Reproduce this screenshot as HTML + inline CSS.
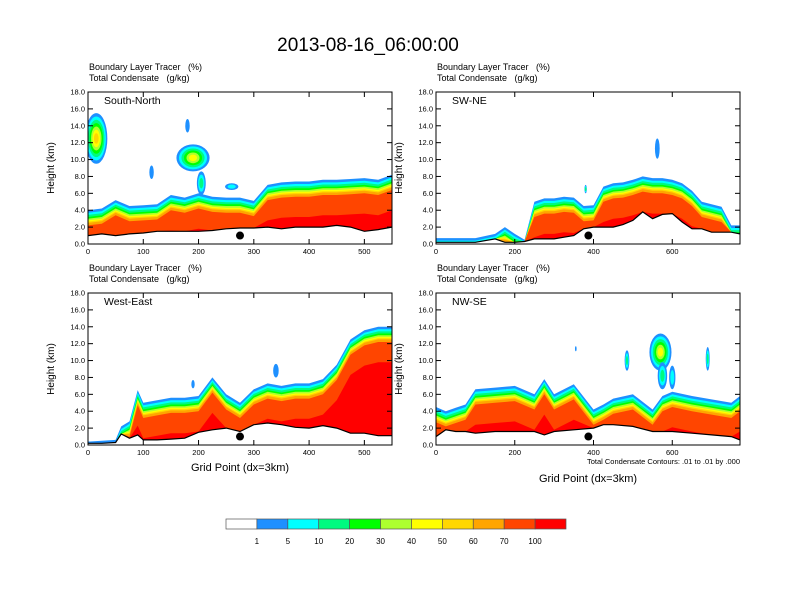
<!DOCTYPE html>
<html><head><meta charset="utf-8">
<style>
body{margin:0;background:#fff;}
svg{display:block;font-family:"Liberation Sans",Arial,sans-serif;}
text{white-space:pre;}
</style></head>
<body>
<svg id="fig" width="792" height="612" viewBox="0 0 792 612" xmlns="http://www.w3.org/2000/svg">
<rect width="792" height="612" fill="#fff"/>
<text x="368" y="51" font-size="19" text-anchor="middle">2013-08-16_06:00:00</text>
<g id="panels"></g>
<g id="cbar"></g>
</svg>
<script>
// colour levels (fill colours) and colorbar labels
const levelColors = ["#ffffff","#1e90ff","#00ffff","#00fa80","#00ff00","#adff2f","#ffff00","#ffd700","#ffa500","#ff4500","#ff0000"];
const cbarLabels = ["1","5","10","20","30","40","50","60","70","100"];
// depth (km) below layer top at which each colour level begins (levels 1..10)
const levelDepth = [0,0.3,0.55,0.8,1.0,1.2,1.35,1.5,1.8,4.2];

// Panel 1: South-North
const p1X = [0,25,50,75,100,125,150,175,200,225,250,275,300,325,350,375,400,425,450,475,500,525,550];
const p1Ground = [1.0,1.2,1.0,1.2,1.3,1.5,1.5,1.5,1.5,1.6,1.8,1.9,1.9,2.0,1.8,2.0,2.0,2.0,2.2,2.0,1.5,1.7,2.0];
const p1Top = [4.0,4.2,5.2,4.5,4.6,4.7,5.8,5.5,6.0,5.6,5.5,5.5,5.1,7.0,7.3,7.4,7.4,7.6,7.6,7.7,7.8,7.6,8.2];
const p1BlobX = [15,190,180,115,260,205];
const p1BlobZ = [12.5,10.2,14,8.5,6.8,7.2];
const p1BlobRX = [20,30,4,4,12,8];
const p1BlobRZ = [3.0,1.6,0.8,0.8,0.4,1.4];
const p1BlobPeak = [7,6,1,1,2,3];

// Panel 2: SW-NE
const p2X = [0,50,100,150,175,200,225,250,275,300,325,350,375,400,425,450,475,500,525,550,575,600,625,650,675,700,725,750,772];
const p2Ground = [0.2,0.2,0.2,0.6,0.2,0.2,0.3,0.6,0.6,0.6,0.8,1.0,1.8,2.0,2.0,2.0,2.3,2.8,3.8,3.0,3.5,3.6,2.6,1.8,1.8,1.4,1.4,1.4,1.2];
const p2Top = [0.7,0.7,0.7,1.2,2.0,1.2,0.5,5.0,5.4,5.4,5.6,5.5,4.5,4.6,6.8,7.2,7.3,7.6,8.0,7.8,7.8,7.6,7.2,6.3,5.0,4.7,4.4,2.2,2.2];
const p2BlobX = [562,380];
const p2BlobZ = [11.3,6.5];
const p2BlobRX = [6,3];
const p2BlobRZ = [1.2,0.5];
const p2BlobPeak = [1,3];

// Panel 3: West-East
const p3X = [0,25,50,60,75,90,100,125,150,175,200,225,250,275,300,325,350,375,400,425,450,475,500,525,550];
const p3Ground = [0.2,0.2,0.3,1.3,0.8,1.2,0.6,0.6,0.7,0.8,1.5,1.8,2.0,1.6,2.4,2.6,2.4,2.1,2.0,2.3,2.0,1.4,1.4,1.1,1.1];
const p3Top = [0.4,0.5,0.6,2.2,2.8,6.5,5.0,5.3,5.6,5.6,5.8,8.0,6.0,5.0,6.6,7.3,7.0,7.3,7.3,7.8,9.5,12.5,13.6,14.0,14.0];
const p3BlobX = [340,190];
const p3BlobZ = [8.8,7.2];
const p3BlobRX = [5,3];
const p3BlobRZ = [0.8,0.5];
const p3BlobPeak = [1,1];

// Panel 4: NW-SE
const p4X = [0,25,50,75,100,150,200,250,275,300,350,400,425,450,500,550,575,600,650,700,750,772];
const p4Ground = [1.0,1.8,1.6,1.6,1.4,1.6,1.6,1.6,1.2,1.6,1.8,2.0,2.4,2.4,2.2,1.6,1.6,1.6,1.4,1.2,1.0,0.6];
const p4Top = [4.5,4.0,4.4,4.8,6.6,6.8,7.0,6.0,7.8,6.0,7.2,4.2,4.8,5.5,6.0,4.2,5.8,6.3,5.8,5.4,5.0,5.8];
const p4BlobX = [570,485,690,575,600,355];
const p4BlobZ = [11,10,10.2,8.2,8,11.4];
const p4BlobRX = [28,6,5,12,8,1.5];
const p4BlobRZ = [2.2,1.2,1.4,1.6,1.4,0.3];
const p4BlobPeak = [6,3,3,3,2,1];

const panels = [
  {name:"south-north",label:"South-North",x0:88,y0:92,w:304,h:152,xmax:550,xt:[0,100,200,300,400,500],X:p1X,G:p1Ground,T:p1Top,bx:p1BlobX,bz:p1BlobZ,brx:p1BlobRX,brz:p1BlobRZ,bp:p1BlobPeak,dot:275,xlab:false},
  {name:"sw-ne",label:"SW-NE",x0:436,y0:92,w:304,h:152,xmax:772,xt:[0,200,400,600],X:p2X,G:p2Ground,T:p2Top,bx:p2BlobX,bz:p2BlobZ,brx:p2BlobRX,brz:p2BlobRZ,bp:p2BlobPeak,dot:387,xlab:false},
  {name:"west-east",label:"West-East",x0:88,y0:293,w:304,h:152,xmax:550,xt:[0,100,200,300,400,500],X:p3X,G:p3Ground,T:p3Top,bx:p3BlobX,bz:p3BlobZ,brx:p3BlobRX,brz:p3BlobRZ,bp:p3BlobPeak,dot:275,xlab:true},
  {name:"nw-se",label:"NW-SE",x0:436,y0:293,w:304,h:152,xmax:772,xt:[0,200,400,600],X:p4X,G:p4Ground,T:p4Top,bx:p4BlobX,bz:p4BlobZ,brx:p4BlobRX,brz:p4BlobRZ,bp:p4BlobPeak,dot:387,xlab:true,note:true}
];
const NS="http://www.w3.org/2000/svg";
function mk(tag,attrs,parent){const e=document.createElementNS(NS,tag);for(const k in attrs)e.setAttribute(k,attrs[k]);if(parent)parent.appendChild(e);return e;}
const root=document.getElementById("panels");
panels.forEach((p,pi)=>{
  const g=mk("g",{},root);
  
  
  const sx=v=>p.x0+v/p.xmax*p.w;
  const sy=z=>p.y0+p.h-z/18*p.h;
  const cid="clip"+pi;
  const cp=mk("clipPath",{id:cid},g);mk("rect",{x:p.x0,y:p.y0,width:p.w,height:p.h},cp);
  const plot=mk("g",{"clip-path":"url(#"+cid+")"},g);
  p.bx.forEach((bx,i)=>{
    for(let l=0;l<p.bp[i];l++){
      const f=1-l/(p.bp[i]+0.6);
      const e=mk("ellipse",{cx:sx(bx),cy:sy(p.bz[i]),rx:Math.max(0.8,p.brx[i]*f/p.xmax*p.w),ry:Math.max(0.8,p.brz[i]*f/18*p.h),fill:levelColors[l+1]},plot);
      
      
    }
  });
  levelDepth.forEach((d,li)=>{
    let pts=[];
    p.X.forEach((x,i)=>{pts.push(sx(x).toFixed(1)+","+sy(Math.max(p.G[i],p.T[i]-d)).toFixed(1));});
    for(let i=p.X.length-1;i>=0;i--)pts.push(sx(p.X[i]).toFixed(1)+","+sy(p.G[i]).toFixed(1));
    const pg=mk("polygon",{points:pts.join(" "),fill:levelColors[li+1]},plot);
    
    
  });
  const gl=mk("polyline",{points:p.X.map((x,i)=>sx(x).toFixed(1)+","+sy(p.G[i]).toFixed(1)).join(" "),fill:"none",stroke:"#000","stroke-width":1.2},plot);
  
  
  const dt=mk("circle",{cx:sx(p.dot),cy:sy(1.0),r:4,fill:"#000"},g);
  
  
  mk("rect",{x:p.x0,y:p.y0,width:p.w,height:p.h,fill:"none",stroke:"#000","stroke-width":1},g);
  for(let z=0;z<=18;z+=2){
    const y=sy(z);
    mk("line",{x1:p.x0,x2:p.x0+5,y1:y,y2:y,stroke:"#000"},g);
    mk("line",{x1:p.x0+p.w,x2:p.x0+p.w-5,y1:y,y2:y,stroke:"#000"},g);
    const t=mk("text",{x:p.x0-3,y:y+2.5,"font-size":7.5,"text-anchor":"end"},g);t.textContent=z.toFixed(1);
    
    
  }
  p.xt.forEach(v=>{
    const x=sx(v);
    mk("line",{x1:x,x2:x,y1:p.y0+p.h,y2:p.y0+p.h-5,stroke:"#000"},g);
    mk("line",{x1:x,x2:x,y1:p.y0,y2:p.y0+5,stroke:"#000"},g);
    const t=mk("text",{x:x,y:p.y0+p.h+10,"font-size":7.5,"text-anchor":"middle"},g);t.textContent=v;
    
    
  });
  const yl=mk("text",{x:0,y:0,"font-size":10,"text-anchor":"middle",transform:"translate("+(p.x0-34)+","+(p.y0+p.h/2)+") rotate(-90)"},g);yl.textContent="Height (km)";
  
  
  const t1=mk("text",{x:p.x0+1,y:p.y0-22,"font-size":9},g);t1.textContent="Boundary Layer Tracer   (%)";
  
  
  const t2=mk("text",{x:p.x0+1,y:p.y0-11,"font-size":9},g);t2.textContent="Total Condensate   (g/kg)";
  
  
  const pl=mk("text",{x:p.x0+16,y:p.y0+12,"font-size":10.5},g);pl.textContent=p.label;
  
  
  if(p.xlab){
    const xl=mk("text",{x:p.x0+p.w/2,y:p.note?482:471,"font-size":11,"text-anchor":"middle"},g);xl.textContent="Grid Point (dx=3km)";
    
    
  }
  if(p.note){
    const n=mk("text",{x:p.x0+p.w,y:p.y0+p.h+19,"font-size":7.5,"text-anchor":"end"},g);n.textContent="Total Condensate Contours: .01 to .01 by .000";
    
    
  }
});
const cb=document.getElementById("cbar");
const cbx=226,cbw=340,cby=519,cbh=10,bw=cbw/levelColors.length;
levelColors.forEach((c,i)=>{
  const r=mk("rect",{x:cbx+i*bw,y:cby,width:bw,height:cbh,fill:c,stroke:"#555","stroke-width":0.7},cb);
  
  
});
cbarLabels.forEach((s,i)=>{
  const t=mk("text",{x:cbx+(i+1)*bw,y:544,"font-size":8,"text-anchor":"middle"},cb);t.textContent=s;
  
  
});
</script>
</body></html>
